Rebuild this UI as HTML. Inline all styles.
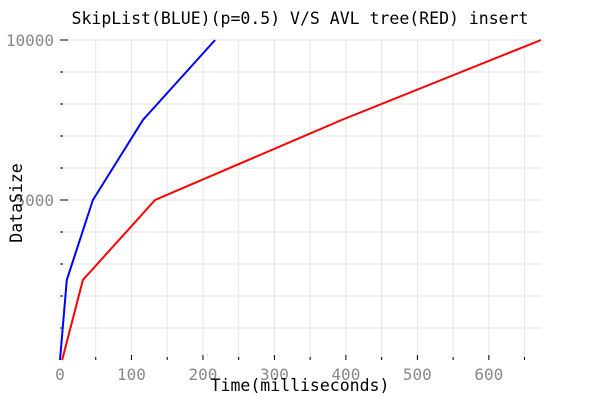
<!DOCTYPE html>
<html><head><meta charset="utf-8"><style>
body{margin:0;background:#fff}
svg{display:block;font-family:"DejaVu Sans Mono","Liberation Mono",monospace}
</style></head><body>
<svg id="c" width="600" height="400"></svg>
<script>
const xTickVals=[0,100,200,300,400,500,600];
const yTickVals=[5000,10000];
const sizes=[0,2500,5000,7500,10000];
const skipTimes=[0,9.5,46,116,217];
const avlTimes=[3,32,133,394,673];
const X0=60,X1=541,Y0=360,Y1=40,XMAX=673,YMAX=10000;
const sx=v=>X0+v/XMAX*(X1-X0), sy=v=>Y0-v/YMAX*(Y0-Y1);
const svg=document.getElementById('c');const NS='http://www.w3.org/2000/svg';
function mk(t,a,p){const e=document.createElementNS(NS,t);for(const k in a)e.setAttribute(k,a[k]);(p||svg).appendChild(e);return e;}
const grid=mk('g',{});


for(let v=50;v<=XMAX;v+=50){mk('line',{x1:sx(v),x2:sx(v),y1:Y1,y2:Y0,stroke:'#e6e6e6'},grid);}
for(let v=1000;v<=YMAX;v+=1000){mk('line',{x1:X0,x2:X1,y1:sy(v),y2:sy(v),stroke:'#e6e6e6'},grid);}
for(let v=0;v<=XMAX;v+=50){mk('line',{x1:sx(v),x2:sx(v),y1:Y0,y2:Y0-(v%100==0?5:3),stroke:'#000'});}
for(let v=1000;v<=YMAX;v+=1000){mk('line',{x1:X0,x2:X0+(v%5000==0?8:3),y1:sy(v),y2:sy(v),stroke:'#000'});}
xTickVals.forEach(v=>{const t=mk('text',{x:sx(v),y:Y0+20,'text-anchor':'middle','font-size':'16',fill:'#888'});t.textContent=v;

});
yTickVals.forEach(v=>{const t=mk('text',{x:X0-6,y:sy(v)+6,'text-anchor':'end','font-size':'16',fill:'#888'});t.textContent=v;

});
function line(xs,col,name){const p=mk('polyline',{points:xs.map((x,i)=>sx(x)+','+sy(sizes[i])).join(' '),fill:'none',stroke:col,'stroke-width':2});

}
line(skipTimes,'#0000ff','skiplist-line');
line(avlTimes,'#ff0000','avl-line');
</script>
<svg width="600" height="400" style="position:absolute;left:0;top:0" font-family="DejaVu Sans Mono, Liberation Mono, monospace">
<text x="300" y="24" text-anchor="middle" font-size="16.5" fill="#000">SkipList(BLUE)(p=0.5) V/S AVL tree(RED) insert</text>
<text x="300" y="391" text-anchor="middle" font-size="16.5" fill="#000">Time(milliseconds)</text>
<text x="0" y="0" transform="translate(22,203) rotate(-90)" text-anchor="middle" font-size="16.5" fill="#000">DataSize</text>
</svg>
</body></html>
